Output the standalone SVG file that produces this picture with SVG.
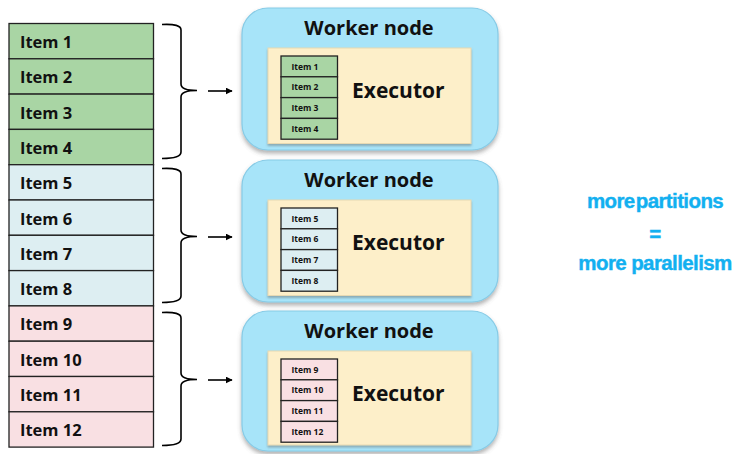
<svg xmlns="http://www.w3.org/2000/svg" width="740" height="454" viewBox="0 0 740 454">
<defs>
<filter id="sh" x="-10%" y="-10%" width="120%" height="125%">
<feDropShadow dx="0" dy="3" stdDeviation="2" flood-color="#555" flood-opacity="0.45"/>
</filter>
<filter id="sh2" x="-10%" y="-10%" width="120%" height="125%">
<feDropShadow dx="0" dy="2" stdDeviation="1.2" flood-color="#666" flood-opacity="0.45"/>
</filter>
<marker id="arr" viewBox="0 0 10 10" refX="9" refY="5" markerWidth="7" markerHeight="7" markerUnits="userSpaceOnUse" orient="auto">
<path d="M0,0 L10,5 L0,10 z" fill="#000"/>
</marker>
</defs>
<style>
text{font-family:"Open Sans","Liberation Sans",sans-serif;font-weight:700;fill:#111}
.row{stroke:#222;stroke-width:1.3}
.g{fill:#a9d5a4}.b{fill:#ddeef2}.p{fill:#f9e0e3}
.it{font-size:16.5px;font-weight:700}
.sit{font-size:8.5px;font-weight:700}
.worker{fill:#a7e4f9;stroke:#86cbe6;stroke-width:1.2;filter:url(#sh)}
.exec{fill:#fdefc9;stroke:#e6d9b3;stroke-width:1;filter:url(#sh2)}
.wt{font-size:20px;text-anchor:middle}
.et{font-size:21px}
.brace{fill:none;stroke:#000;stroke-width:1.6}
.conn{stroke:#000;stroke-width:1.6;fill:none}
.note{font-family:"Liberation Sans",Arial,sans-serif;font-size:20.5px;fill:#12b0f0;text-anchor:middle;letter-spacing:-0.6px;stroke:#12b0f0;stroke-width:0.4}
</style>

<g id="list">
<g id="item1"><rect class="row g" x="9" y="23.5" width="144.5" height="35.3"/><text class="it" x="20" y="48">Item 1</text></g>
<g id="item2"><rect class="row g" x="9" y="58.8" width="144.5" height="35.3"/><text class="it" x="20" y="83.3">Item 2</text></g>
<g id="item3"><rect class="row g" x="9" y="94.1" width="144.5" height="35.3"/><text class="it" x="20" y="118.6">Item 3</text></g>
<g id="item4"><rect class="row g" x="9" y="129.4" width="144.5" height="35.3"/><text class="it" x="20" y="153.9">Item 4</text></g>
<g id="item5"><rect class="row b" x="9" y="164.7" width="144.5" height="35.3"/><text class="it" x="20" y="189.2">Item 5</text></g>
<g id="item6"><rect class="row b" x="9" y="200" width="144.5" height="35.3"/><text class="it" x="20" y="224.5">Item 6</text></g>
<g id="item7"><rect class="row b" x="9" y="235.3" width="144.5" height="35.3"/><text class="it" x="20" y="259.8">Item 7</text></g>
<g id="item8"><rect class="row b" x="9" y="270.6" width="144.5" height="35.3"/><text class="it" x="20" y="295.1">Item 8</text></g>
<g id="item9"><rect class="row p" x="9" y="305.9" width="144.5" height="35.3"/><text class="it" x="20" y="330.4">Item 9</text></g>
<g id="item10"><rect class="row p" x="9" y="341.2" width="144.5" height="35.3"/><text class="it" x="20" y="365.7">Item 10</text></g>
<g id="item11"><rect class="row p" x="9" y="376.5" width="144.5" height="35.3"/><text class="it" x="20" y="401">Item 11</text></g>
<g id="item12"><rect class="row p" x="9" y="411.8" width="144.5" height="35.3"/><text class="it" x="20" y="436.3">Item 12</text></g>
</g>

<g id="connectors">
<path class="brace" d="M162,24.5 Q181,23.5 181,30 L181,84 Q181,90.5 197,90.5 M197,90.5 Q181,90.5 181,97 L181,152 Q181,158.5 162,158.5"/>
<path class="brace" d="M162,168.5 Q181,167.5 181,174 L181,230 Q181,236.5 197,236.5 M197,236.5 Q181,236.5 181,243 L181,296 Q181,302.5 162,302.5"/>
<path class="brace" d="M162,312.5 Q181,311.5 181,318 L181,373 Q181,379.5 197,379.5 M197,379.5 Q181,379.5 181,386 L181,439 Q181,445.5 162,445.5"/>
<line class="conn" x1="208" y1="91" x2="232" y2="91" marker-end="url(#arr)"/>
<line class="conn" x1="208" y1="237" x2="232" y2="237" marker-end="url(#arr)"/>
<line class="conn" x1="208" y1="380" x2="232" y2="380" marker-end="url(#arr)"/>
</g>

<g id="worker1">
<rect class="worker" x="242" y="8" width="256" height="142" rx="26"/>
<text class="wt" x="369" y="35">Worker node</text>
<g id="executor1">
<rect class="exec" x="268" y="48" width="203" height="95.5"/>
<text class="et" x="352" y="97.5">Executor</text>
<rect class="row g" x="281" y="56" width="56.5" height="20.8"/><text class="sit" x="291.5" y="69.5">Item 1</text>
<rect class="row g" x="281" y="76.8" width="56.5" height="20.8"/><text class="sit" x="291.5" y="90.3">Item 2</text>
<rect class="row g" x="281" y="97.6" width="56.5" height="20.8"/><text class="sit" x="291.5" y="111.1">Item 3</text>
<rect class="row g" x="281" y="118.4" width="56.5" height="20.8"/><text class="sit" x="291.5" y="131.9">Item 4</text>
</g>
</g>

<g id="worker2">
<rect class="worker" x="242" y="160" width="256" height="142" rx="26"/>
<text class="wt" x="369" y="187">Worker node</text>
<g id="executor2">
<rect class="exec" x="268" y="200" width="203" height="95.5"/>
<text class="et" x="352" y="249.5">Executor</text>
<rect class="row b" x="281" y="208" width="56.5" height="20.8"/><text class="sit" x="291.5" y="221.5">Item 5</text>
<rect class="row b" x="281" y="228.8" width="56.5" height="20.8"/><text class="sit" x="291.5" y="242.3">Item 6</text>
<rect class="row b" x="281" y="249.6" width="56.5" height="20.8"/><text class="sit" x="291.5" y="263.1">Item 7</text>
<rect class="row b" x="281" y="270.4" width="56.5" height="20.8"/><text class="sit" x="291.5" y="283.9">Item 8</text>
</g>
</g>

<g id="worker3">
<rect class="worker" x="242" y="311" width="256" height="140" rx="26"/>
<text class="wt" x="369" y="338">Worker node</text>
<g id="executor3">
<rect class="exec" x="268" y="351" width="203" height="94"/>
<text class="et" x="352" y="400.5">Executor</text>
<rect class="row p" x="281" y="359" width="56.5" height="20.8"/><text class="sit" x="291.5" y="372.5">Item 9</text>
<rect class="row p" x="281" y="379.8" width="56.5" height="20.8"/><text class="sit" x="291.5" y="393.3">Item 10</text>
<rect class="row p" x="281" y="400.6" width="56.5" height="20.8"/><text class="sit" x="291.5" y="414.1">Item 11</text>
<rect class="row p" x="281" y="421.4" width="56.5" height="20.8"/><text class="sit" x="291.5" y="434.9">Item 12</text>
</g>
</g>

<g id="note">
<text class="note" x="655" y="208" word-spacing="-4">more partitions</text>
<text class="note" x="655" y="241">=</text>
<text class="note" x="655" y="270">more parallelism</text>
</g>
</svg>
